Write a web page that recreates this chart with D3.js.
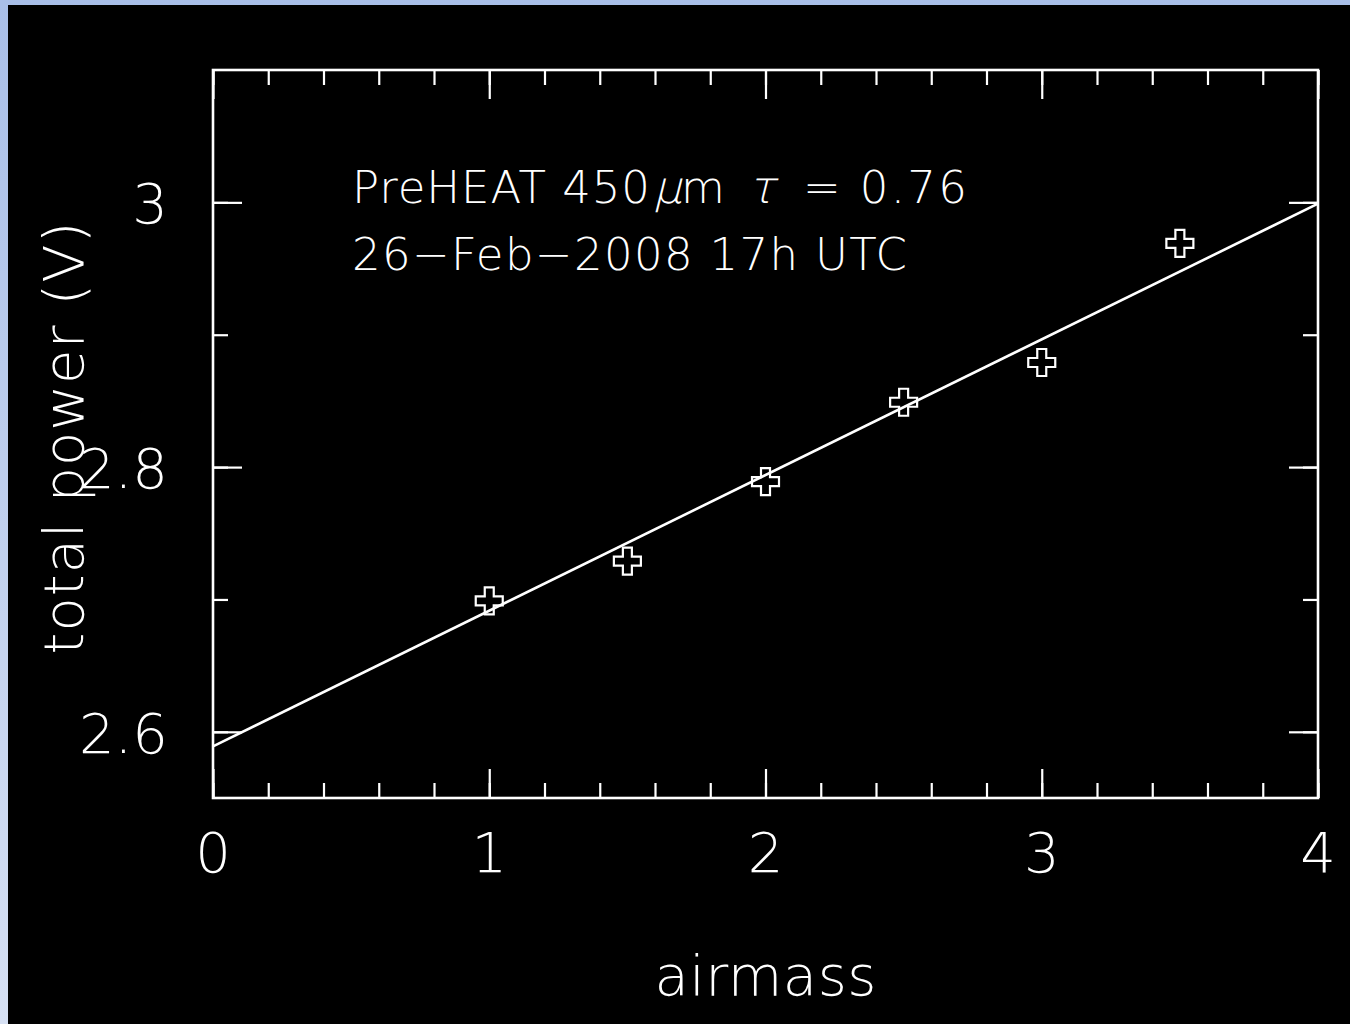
<!DOCTYPE html>
<html>
<head>
<meta charset="utf-8">
<script src="https://cdn.jsdelivr.net/npm/d3@7"></script>
<style>
  html, body { margin: 0; padding: 0; background: #000; }
  svg { display: block; }
  text { fill: #fff; font-family: "DejaVu Sans", "Liberation Sans", sans-serif; font-weight: 200; }
</style>
</head>
<body>
<svg id="chart" width="1350" height="1024"></svg>
<script>
// ---- data ----
const airmass = [1, 1.5, 2, 2.5, 3, 3.5];
const totalPower = [2.699, 2.729, 2.789, 2.849, 2.879, 2.969];
const fitX = [0, 4];
const fitY = [2.589, 2.999];
const xMajorTicks = [0, 1, 2, 3, 4];
const xMinorTicks = [0, 0.2, 0.4, 0.6, 0.8, 1, 1.2, 1.4, 1.6, 1.8, 2, 2.2, 2.4, 2.6, 2.8, 3, 3.2, 3.4, 3.6, 3.8, 4];
const yMajorTicks = [2.6, 2.8, 3.0];
const yMinorTicks = [2.6, 2.7, 2.8, 2.9, 3.0];
const xTickLabels = ["0", "1", "2", "3", "4"];
const yTickLabels = ["2.6", "2.8", "3"];
const xLabel = "airmass";
const yLabel = "total power (V)";
const noteLine2 = "26\u2212Feb\u22122008 17h UTC";

// ---- layout ----
const svg = d3.select("#chart");
const W = 1350, H = 1024;
const pLeft = 213, pRight = 1318, pTop = 70, pBottom = 798;

// background + blue border
const defs = svg.append("defs");
const grad = defs.append("linearGradient").attr("id", "edge").attr("x1", 0).attr("y1", 0).attr("x2", 0).attr("y2", 1);
grad.append("stop").attr("offset", "0%").attr("stop-color", "#a9bfe8");
grad.append("stop").attr("offset", "100%").attr("stop-color", "#d6e0f3");
svg.append("rect").attr("width", W).attr("height", H).attr("fill", "url(#edge)");
svg.append("rect").attr("x", 8).attr("y", 5).attr("width", W - 8).attr("height", H - 5).attr("fill", "#000");

const x = d3.scaleLinear().domain([0, 4]).range([pLeft, pRight]);
const y = d3.scaleLinear().domain([2.55, 3.1]).range([pBottom, pTop]);

const majorLen = 29, minorLen = 15;

function styleAxis(g) {
  g.select(".domain").remove();
  g.selectAll("line").attr("stroke", "#fff").attr("stroke-width", 2.2);
  g.selectAll("text").remove();
}

// bottom
svg.append("g").attr("transform", `translate(0,${pBottom})`)
  .call(d3.axisBottom(x).tickValues(xMinorTicks).tickSize(-minorLen)).call(styleAxis);
svg.append("g").attr("transform", `translate(0,${pBottom})`)
  .call(d3.axisBottom(x).tickValues(xMajorTicks).tickSize(-majorLen)).call(styleAxis);
// top
svg.append("g").attr("transform", `translate(0,${pTop})`)
  .call(d3.axisTop(x).tickValues(xMinorTicks).tickSize(-minorLen)).call(styleAxis);
svg.append("g").attr("transform", `translate(0,${pTop})`)
  .call(d3.axisTop(x).tickValues(xMajorTicks).tickSize(-majorLen)).call(styleAxis);
// left
svg.append("g").attr("transform", `translate(${pLeft},0)`)
  .call(d3.axisLeft(y).tickValues(yMinorTicks).tickSize(-minorLen)).call(styleAxis);
svg.append("g").attr("transform", `translate(${pLeft},0)`)
  .call(d3.axisLeft(y).tickValues(yMajorTicks).tickSize(-majorLen)).call(styleAxis);
// right
svg.append("g").attr("transform", `translate(${pRight},0)`)
  .call(d3.axisRight(y).tickValues(yMinorTicks).tickSize(-minorLen)).call(styleAxis);
svg.append("g").attr("transform", `translate(${pRight},0)`)
  .call(d3.axisRight(y).tickValues(yMajorTicks).tickSize(-majorLen)).call(styleAxis);

// frame
svg.append("rect").attr("x", pLeft).attr("y", pTop)
  .attr("width", pRight - pLeft).attr("height", pBottom - pTop)
  .attr("fill", "none").attr("stroke", "#fff").attr("stroke-width", 2.6);

// tick labels
svg.append("g").selectAll("text").data(xMajorTicks).join("text")
  .attr("x", d => x(d)).attr("y", 872)
  .attr("text-anchor", "middle").attr("font-size", 56)
  .text((d, i) => xTickLabels[i]);
svg.append("g").selectAll("text").data(yMajorTicks).join("text")
  .attr("x", 168).attr("y", d => y(d) + 21)
  .attr("text-anchor", "end").attr("font-size", 56)
  .text((d, i) => yTickLabels[i]);

// axis titles
svg.append("text").attr("x", (pLeft + pRight) / 2).attr("y", 995)
  .attr("text-anchor", "middle").attr("font-size", 56)
  .attr("textLength", 222).attr("lengthAdjust", "spacing")
  .text(xLabel);
svg.append("text").attr("transform", "translate(83,438) rotate(-90)")
  .attr("text-anchor", "middle").attr("font-size", 56)
  .attr("textLength", 433).attr("lengthAdjust", "spacing")
  .text(yLabel);

// fit line
const lineGen = d3.line().x(d => x(d[0])).y(d => y(d[1]));
svg.append("path").datum(fitX.map((v, i) => [v, fitY[i]]))
  .attr("d", lineGen).attr("fill", "none").attr("stroke", "#fff").attr("stroke-width", 2.6);

// markers
const sym = d3.symbol().type(d3.symbolCross).size(405);
svg.append("g").selectAll("path").data(airmass).join("path")
  .attr("transform", (d, i) => `translate(${x(d)},${y(totalPower[i])})`)
  .attr("d", sym).attr("fill", "none").attr("stroke", "#fff").attr("stroke-width", 2.2);

// annotation (Greek letters drawn slanted with a skew, keeping the thin weight)
function piece(str, px, len, skew) {
  const t = svg.append("text").attr("font-size", 45)
    .attr("transform", `translate(${px},203)` + (skew ? " skewX(-14)" : ""))
    .text(str);
  if (len) t.attr("textLength", len).attr("lengthAdjust", "spacing");
  return t;
}
piece("PreHEAT 450", 352, 298, false);
piece("\u03bc", 653, null, true);
piece("m", 681, null, false);
piece("\u03c4", 748, null, true);
piece("= 0.76", 803, 164, false);
svg.append("text").attr("x", 352).attr("y", 270).attr("font-size", 45)
  .attr("textLength", 555).attr("lengthAdjust", "spacing")
  .text(noteLine2);
</script>
</body>
</html>
